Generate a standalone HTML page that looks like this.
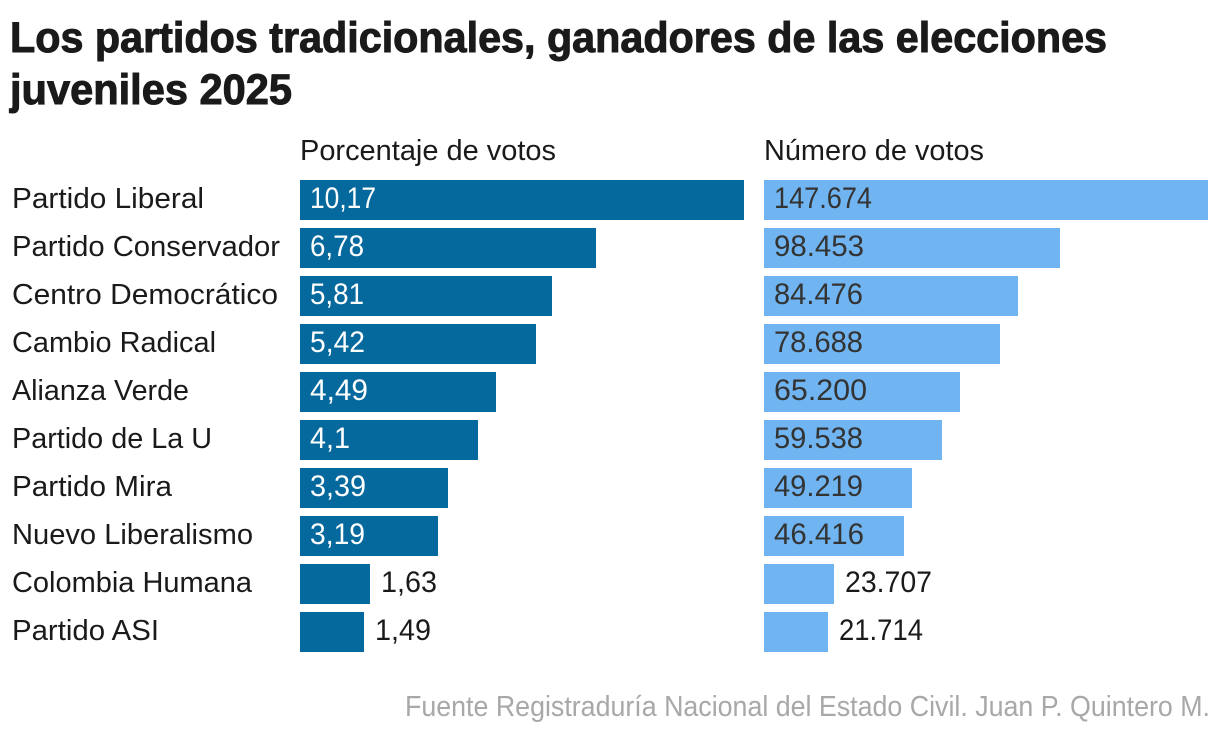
<!DOCTYPE html>
<html lang="es">
<head>
<meta charset="utf-8">
<title>Los partidos tradicionales, ganadores de las elecciones juveniles 2025</title>
<style>
html,body{margin:0;padding:0;background:#fff;width:1220px;height:736px;overflow:hidden}
svg{display:block}
text{font-family:"Liberation Sans",sans-serif}
</style>
</head>
<body>
<svg id="chart" xmlns="http://www.w3.org/2000/svg" width="1220" height="736" viewBox="0 0 1220 736">
  <rect width="1220" height="736" fill="#ffffff"></rect>
  <text x="10" y="52" font-size="43" font-weight="700" fill="#1a1a1a" stroke="#1a1a1a" stroke-width="1" textLength="1097" lengthAdjust="spacingAndGlyphs">Los partidos tradicionales, ganadores de las elecciones</text>
  <text x="10" y="104" font-size="43" font-weight="700" fill="#1a1a1a" stroke="#1a1a1a" stroke-width="1" textLength="282" lengthAdjust="spacingAndGlyphs">juveniles 2025</text>
  <text x="300" y="160" font-size="29" fill="#1a1a1a" textLength="256" lengthAdjust="spacingAndGlyphs">Porcentaje de votos</text>
  <text x="764" y="160" font-size="29" fill="#1a1a1a" textLength="220" lengthAdjust="spacingAndGlyphs">Número de votos</text>
  <g id="rows"></g>
  <text x="405" y="716" font-size="28.5" fill="#a8a8a8" textLength="805" lengthAdjust="spacingAndGlyphs">Fuente Registraduría Nacional del Estado Civil. Juan P. Quintero M.</text>
</svg>
<script>
const parties = ["Partido Liberal","Partido Conservador","Centro Democrático","Cambio Radical","Alianza Verde","Partido de La U","Partido Mira","Nuevo Liberalismo","Colombia Humana","Partido ASI"];
const percentValues = [10.17,6.78,5.81,5.42,4.49,4.1,3.39,3.19,1.63,1.49];
const voteValues = [147674,98453,84476,78688,65200,59538,49219,46416,23707,21714];
const percentLabels = ["10,17","6,78","5,81","5,42","4,49","4,1","3,39","3,19","1,63","1,49"];
const voteLabels = ["147.674","98.453","84.476","78.688","65.200","59.538","49.219","46.416","23.707","21.714"];

// Typesetting only: fitted run lengths for the reference's typeface, by string.
const textFit = {
  "Partido Liberal":192,"Partido Conservador":268,"Centro Democrático":266,"Cambio Radical":204,"Alianza Verde":177,
  "Partido de La U":200,"Partido Mira":160,"Nuevo Liberalismo":241,"Colombia Humana":240,"Partido ASI":147,
  "10,17":66,"6,78":54,"5,81":54,"5,42":55,"4,49":58,"4,1":40,"3,39":56,"3,19":55,"1,63":56,"1,49":56,
  "147.674":98,"98.453":90,"84.476":89,"78.688":89,"65.200":93,"59.538":89,"49.219":89,"46.416":90,"23.707":87,"21.714":84
};

const NS = "http://www.w3.org/2000/svg";
const rowsGroup = document.getElementById("rows");
const plotWidth = 444;
const rowStart = 180;
const rowStep = 48;
const barHeight = 40;

function yScale(i){ return rowStart + i * rowStep; }
function widthScale(maxValue, nudge){
  return function(v){
    return Math.floor((v / maxValue * plotWidth + nudge) / 2) * 2;
  };
}
function addText(x, y, content, fill, size){
  const t = document.createElementNS(NS, "text");
  t.setAttribute("x", x);
  t.setAttribute("y", y);
  t.setAttribute("font-size", size);
  t.setAttribute("fill", fill);
  if (textFit[content]) {
    t.setAttribute("textLength", textFit[content]);
    t.setAttribute("lengthAdjust", "spacingAndGlyphs");
  }
  t.textContent = content;
  rowsGroup.appendChild(t);
  return t;
}
function drawSeries(values, labels, originX, color, insideFill, nudge){
  const w = widthScale(Math.max.apply(null, values), nudge);
  values.forEach(function(v, i){
    const y = yScale(i);
    const bw = w(v);
    const r = document.createElementNS(NS, "rect");
    r.setAttribute("x", originX);
    r.setAttribute("y", y);
    r.setAttribute("width", bw);
    r.setAttribute("height", barHeight);
    r.setAttribute("fill", color);
    
    
    rowsGroup.appendChild(r);
    const inside = bw > 100;
    const label = addText(inside ? originX + 10 : originX + bw + 11, y + 28, labels[i], inside ? insideFill : "#1a1a1a", 30);
    
    
  });
}
parties.forEach(function(name, i){
  const label = addText(12, yScale(i) + 28, name, "#1a1a1a", 29);
  
  
});
drawSeries(percentValues, percentLabels, 300, "#05699d", "#ffffff", 0.2);
drawSeries(voteValues, voteLabels, 764, "#70b5f1", "#333333", 0.5);
</script>
</body>
</html>
